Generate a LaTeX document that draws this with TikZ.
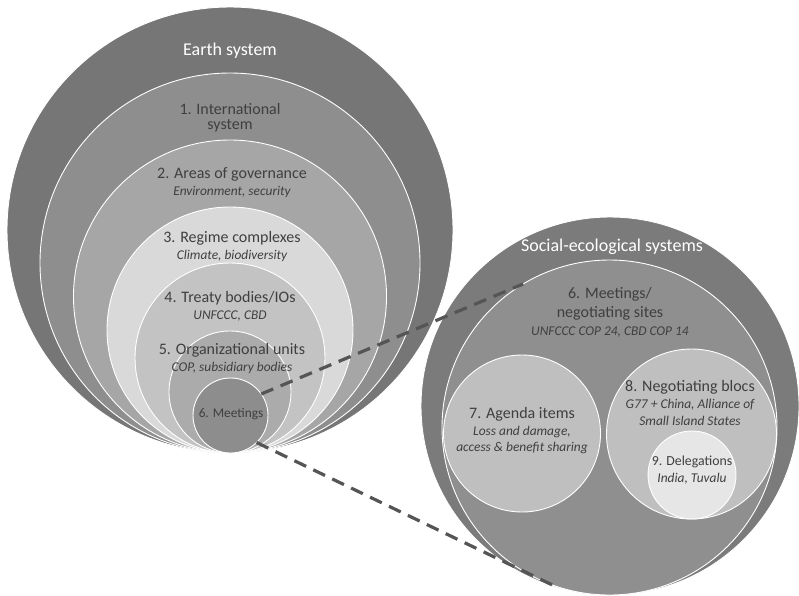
\documentclass[tikz,border=0pt]{standalone}
\usepackage{fontspec}
\setmainfont{Carlito}
\usetikzlibrary{positioning}

\definecolor{earthgray}{HTML}{767676}
\definecolor{intlgray}{HTML}{8E8E8E}
\definecolor{areagray}{HTML}{A6A6A6}
\definecolor{regimegray}{HTML}{D9D9D9}
\definecolor{treatygray}{HTML}{C3C3C3}
\definecolor{unitgray}{HTML}{ABABAB}
\definecolor{meetgray}{HTML}{8D8D8D}
\definecolor{sesgray}{HTML}{7B7B7B}
\definecolor{sitegray}{HTML}{8F8F8F}
\definecolor{itemgray}{HTML}{BFBFBF}
\definecolor{delegray}{HTML}{E6E6E6}
\definecolor{labgray}{HTML}{3F3F3F}
\definecolor{dashgray}{HTML}{555555}

\begin{document}
\begin{tikzpicture}[x=1pt,y=-1pt,
    ring/.style={circle,draw=white,line width=0.9pt,inner sep=0pt,outer sep=0pt},
    head/.style={text=white,font=\fontsize{18}{21}\selectfont},
    lab/.style={text=labgray,font=\fontsize{16}{19}\selectfont},
    sub/.style={text=labgray,font=\fontsize{13.4}{16}\selectfont\itshape},
    zoomline/.style={draw=dashgray,line width=3.2pt,dash pattern=on 13pt off 8pt}]
    \useasboundingbox (0,0) rectangle (799,595);

    % nested circles, all touching at the bottom
    \node[ring,fill=earthgray,minimum size=446pt] (earth) at (230,230) {};
    \node[ring,fill=intlgray,minimum size=380pt] (intl) at (230,263) {};
    \node[ring,fill=areagray,minimum size=313pt] (area) at (230,296.5) {};
    \node[ring,fill=regimegray,minimum size=246pt] (regime) at (230,330) {};
    \node[ring,fill=treatygray,minimum size=190pt] (treaty) at (230,358) {};
    \node[ring,fill=unitgray,minimum size=122pt] (unit) at (230,392) {};
    \node[ring,fill=meetgray,minimum size=75pt] (meet) at (230.5,415.5) {};

    % social-ecological systems
    \node[ring,fill=sesgray,minimum size=378pt] (ses) at (610,406) {};
    \node[ring,fill=sitegray,minimum size=335pt] (site) at (609.5,427.5) {};
    \node[ring,fill=itemgray,minimum size=157pt] (item) at (522,433.5) {};
    \node[ring,fill=itemgray,minimum size=170pt] (bloc) at (691.5,434) {};
    \node[ring,fill=delegray,minimum size=88pt] (dele) at (692,475) {};

    % labels
    \node[head] (tearth) at (230,51) {Earth system};
    \node[lab] (tintl) at (230,109) {1. International};
    \node[lab] (tintl2) at (230,126) {system};
    \node[lab] (tarea) at (232,174) {2. Areas of governance};
    \node[sub] (sarea) at (232,192) {Environment, security};
    \node[lab] (tregime) at (232,238) {3. Regime complexes};
    \node[sub] (sregime) at (232,256) {Climate, biodiversity};
    \node[lab] (ttreaty) at (230,298) {4. Treaty bodies/IOs};
    \node[sub] (streaty) at (230,316) {UNFCCC, CBD};
    \node[lab] (tunit) at (232,350) {5. Organizational units};
    \node[sub] (sunit) at (232,368) {COP, subsidiary bodies};
    \node[text=labgray,font=\fontsize{13.3}{16}\selectfont] (tmeet) at (231,414) {6. Meetings};

    \node[head] (tses) at (612,247) {Social-ecological systems};
    \node[lab] (tsite) at (610,294) {6. Meetings/};
    \node[lab] (tsite2) at (610,313) {negotiating sites};
    \node[sub] (ssite) at (610,332) {UNFCCC COP 24, CBD COP 14};
    \node[lab] (titem) at (522,414) {7. Agenda items};
    \node[sub] (sitem) at (522,432) {Loss and damage,};
    \node[sub] (sitem2) at (522,448) {access \& benefit sharing};
    \node[lab] (tbloc) at (690,387) {8. Negotiating blocs};
    \node[sub] (sbloc) at (690,405) {G77 + China, Alliance of};
    \node[sub] (sbloc2) at (690,421) {Small Island States};
    \node[text=labgray,font=\fontsize{13.8}{16}\selectfont] (tdele) at (692,462) {9. Delegations};
    \node[sub] (sdele) at (692,479) {India, Tuvalu};

    % zoom lines
    \draw[zoomline] (meet.35) -- (site.121);
    \draw[zoomline] (meet.-46) -- (site.250);
\end{tikzpicture}
\end{document}
